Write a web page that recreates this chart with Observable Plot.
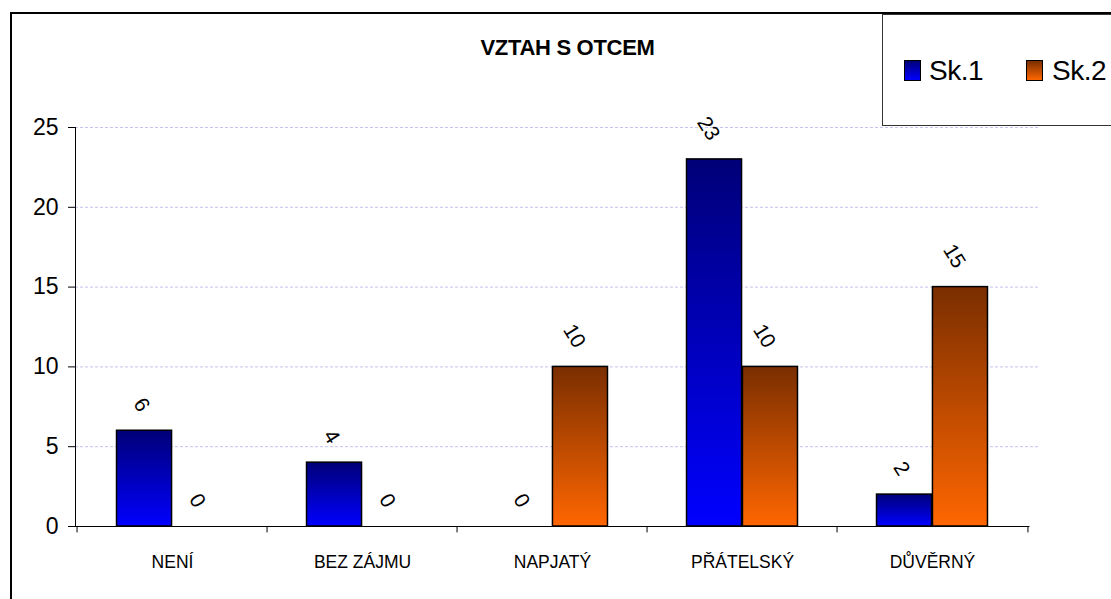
<!DOCTYPE html>
<html>
<head>
<meta charset="utf-8">
<script src="https://cdn.jsdelivr.net/npm/d3@7"></script>
<script src="https://cdn.jsdelivr.net/npm/@observablehq/plot@0.6"></script>
<style>
  body { margin: 0; background: #fff; }
  #wrap { position: relative; width: 1111px; height: 599px; overflow: hidden; background: #fff; }
  #chart { position: absolute; left: 0; top: 0; }
  #frame { position: absolute; left: 10px; top: 12px; width: 1200px; height: 700px; border: 2px solid #000; pointer-events: none; }
  #title { position: absolute; left: 0; width: 1135px; top: 35px; text-align: center; font: bold 22px "Liberation Sans", Arial, sans-serif; color: #000; letter-spacing: -0.3px; }
  #legend { position: absolute; left: 882px; top: 14px; width: 300px; height: 110px; border: 1px solid #333; background: #fff; }
  .sw { position: absolute; width: 15px; height: 19px; border: 1px solid #000; }
  .lt { position: absolute; font: 28px "Liberation Sans", Arial, sans-serif; color: #000; line-height: 1; letter-spacing: -0.5px; }
</style>
</head>
<body>
<div id="wrap">
  <div id="chart"></div>
  <div id="frame"></div>
  <div id="title">VZTAH S OTCEM</div>
  <div id="legend"></div>
</div>
<script>
const categories = ["NENÍ", "BEZ ZÁJMU", "NAPJATÝ", "PŘÁTELSKÝ", "DŮVĚRNÝ"];
const seriesNames = ["Sk.1", "Sk.2"];
const sk1 = [6, 4, 0, 23, 2];
const sk2 = [0, 0, 10, 10, 15];
const yTicks = [0, 5, 10, 15, 20, 25];
const seriesColors = { "Sk.1": ["#000078", "#0000ff"], "Sk.2": ["#7a2e00", "#ff6600"] };

const rows = [];
categories.forEach((c, i) => {
  rows.push({ cat: c, series: "Sk.1", value: sk1[i] });
  rows.push({ cat: c, series: "Sk.2", value: sk2[i] });
});

const W = 1111, H = 599, mL = 75, mR = 81.5, mT = 127, mB = 73;
const step = (W - mL - mR) / categories.length;
const barW = step * 0.293;
const gap = (step - 2 * barW) / 2;
const font = "'Liberation Sans', Arial, sans-serif";

function defs() {
  const ns = "http://www.w3.org/2000/svg";
  const d = document.createElementNS(ns, "defs");
  seriesNames.forEach((s, k) => {
    const g = document.createElementNS(ns, "linearGradient");
    g.setAttribute("id", "grad" + k);
    g.setAttribute("x1", "0"); g.setAttribute("y1", "0");
    g.setAttribute("x2", "0"); g.setAttribute("y2", "1");
    seriesColors[s].forEach((col, j) => {
      const st = document.createElementNS(ns, "stop");
      st.setAttribute("offset", j === 0 ? "0" : "1");
      st.setAttribute("stop-color", col);
      g.appendChild(st);
    });
    d.appendChild(g);
  });
  return d;
}

const s1 = rows.filter(d => d.series === "Sk.1");
const s2 = rows.filter(d => d.series === "Sk.2");

const plot = Plot.plot({
  width: W, height: H,
  marginLeft: mL, marginRight: mR, marginTop: mT, marginBottom: mB,
  style: { background: "transparent", fontFamily: font },
  x: { domain: categories, padding: 0, axis: null },
  y: { domain: [0, 25], axis: null },
  marks: [
    defs,
    Plot.gridY(yTicks.filter(t => t > 0), { stroke: "#c4c4f0", strokeOpacity: 1, strokeDasharray: "3,2", insetRight: -10 }),
    Plot.barY(s1.filter(d => d.value > 0), { x: "cat", y: "value", fill: "url(#grad0)", stroke: "#000", strokeWidth: 1.5, insetLeft: gap, insetRight: gap + barW }),
    Plot.barY(s2.filter(d => d.value > 0), { x: "cat", y: "value", fill: "url(#grad1)", stroke: "#000", strokeWidth: 1.5, insetLeft: gap + barW, insetRight: gap }),
    Plot.frame({ anchor: "left", stroke: "#000" }),
    Plot.ruleY([0], { stroke: "#000" }),
    Plot.ruleX(categories, { x: d => d, y1: 0, y2: -0.4, dx: -step / 2, stroke: "#000" }),
    Plot.ruleX(categories.slice(-1), { x: d => d, y1: 0, y2: -0.4, dx: step / 2, stroke: "#000" }),
    Plot.axisY({ ticks: yTicks, tickSize: 7, tickPadding: 10, fontSize: 23, label: null, fontFamily: font }),
    Plot.axisX({ tickSize: 0, tickPadding: 29, fontSize: 17.5, label: null, fontFamily: font }),
    Plot.text(s1, { x: "cat", y: "value", text: d => String(d.value), dx: -barW / 2, dy: -21, rotate: 58, textAnchor: "end", lineAnchor: "middle", fontSize: 21, fill: "#000" }),
    Plot.text(s2, { x: "cat", y: "value", text: d => String(d.value), dx: barW / 2, dy: -21, rotate: 58, textAnchor: "end", lineAnchor: "middle", fontSize: 21, fill: "#000" })
  ]
});
document.getElementById("chart").appendChild(plot);

// legend
const lg = document.getElementById("legend");
const legendPos = [{ sw: 21, tx: 46 }, { sw: 143, tx: 169 }];
seriesNames.forEach((s, k) => {
  const sw = document.createElement("div");
  sw.className = "sw";
  sw.style.left = legendPos[k].sw + "px";
  sw.style.top = "45px";
  sw.style.background = `linear-gradient(${seriesColors[s][0]}, ${seriesColors[s][1]})`;
  lg.appendChild(sw);
  const t = document.createElement("div");
  t.className = "lt";
  t.style.left = legendPos[k].tx + "px";
  t.style.top = "42px";
  t.textContent = s;
  lg.appendChild(t);
});
</script>
</body>
</html>
